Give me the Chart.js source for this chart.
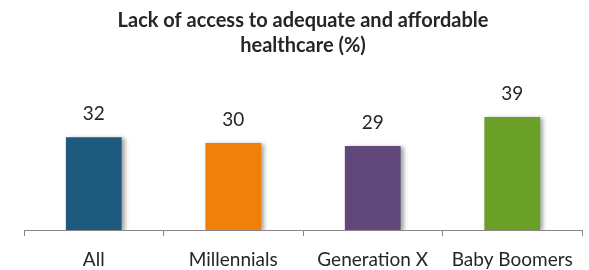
<!DOCTYPE html>
<html>
<head>
<meta charset="utf-8">
<script src="https://cdn.jsdelivr.net/npm/chart.js@4.4.1/dist/chart.umd.min.js"></script>
<style>
  html, body { margin: 0; padding: 0; background: #fff; }
  #wrap { width: 589px; height: 270px; }
</style>
</head>
<body>
<div id="wrap"><canvas id="myChart" width="589" height="270"></canvas></div>
<script>
// data
const categories = ["All", "Millennials", "Generation X", "Baby Boomers"];
const values = [32, 30, 29, 39];
const barColors = ["#1D5A7D", "#F0800A", "#60497A", "#6A9F28"];
const titleLines = ["Lack of access to adequate and affordable", "healthcare (%)"];

const ctx = document.getElementById("myChart");

// skugga bakom staplarna
const shadowPlugin = {
  id: "barShadow",
  beforeDatasetsDraw(chart) {
    const c = chart.ctx;
    c.save();
    c.shadowColor = "rgba(0,0,0,0.35)";
    c.shadowBlur = 4;
    c.shadowOffsetX = 3;
    c.shadowOffsetY = 1;
  },
  afterDatasetsDraw(chart) {
    chart.ctx.restore();
  }
};

// värden ovanför staplarna
const labelPlugin = {
  id: "valueLabels",
  afterDatasetsDraw(chart) {
    const c = chart.ctx;
    const meta = chart.getDatasetMeta(0);
    c.save();
    c.font = "19px Lato";
    c.fillStyle = "#262626";
    c.textAlign = "center";
    c.textBaseline = "middle";
    meta.data.forEach((bar, i) => {
      c.fillText(values[i], bar.x, bar.y - 23);
    });
    c.restore();
  }
};

new Chart(ctx, {
  type: "bar",
  data: {
    labels: categories,
    datasets: [{
      data: values,
      backgroundColor: barColors,
      barPercentage: 0.8,
      categoryPercentage: 0.5
    }]
  },
  options: {
    responsive: false,
    animation: false,
    layout: { padding: { left: 24, right: 7, top: 0, bottom: 0 } },
    plugins: {
      legend: { display: false },
      tooltip: { enabled: false },
      title: {
        display: true,
        text: titleLines,
        color: "#262626",
        font: { family: "Lato", size: 20, weight: "bold", lineHeight: 1.25 },
        padding: { top: 8, bottom: 27 }
      }
    },
    scales: {
      x: {
        offset: true,
        grid: { display: true, drawOnChartArea: false, tickLength: 6, color: "#868686", offset: true },
        border: { display: true, color: "#868686", width: 1 },
        ticks: { color: "#262626", font: { family: "Lato", size: 19 }, padding: 12 },
        afterFit(scale) { scale.height = 40; }
      },
      y: {
        display: false,
        min: 0,
        max: 50
      }
    }
  },
  plugins: [shadowPlugin, labelPlugin]
});
</script>
</body>
</html>
